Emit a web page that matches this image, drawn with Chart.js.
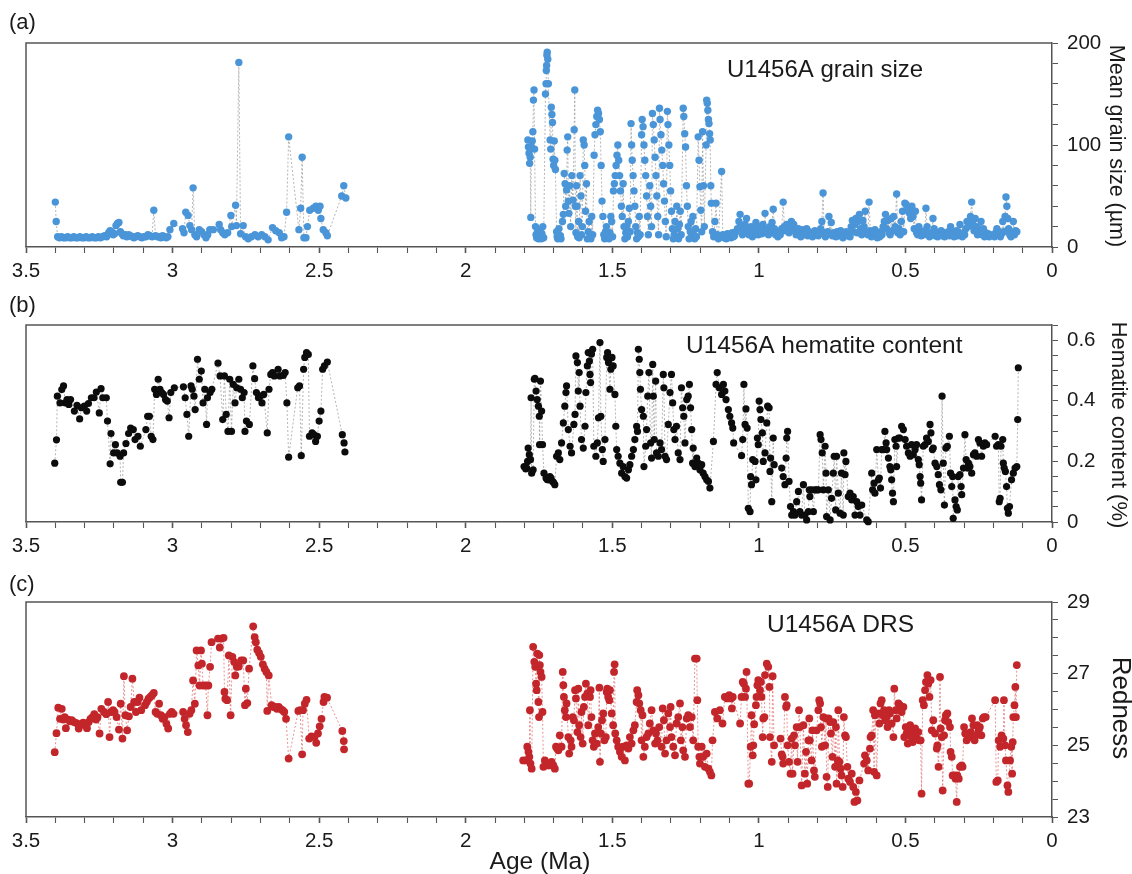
<!DOCTYPE html>
<html><head><meta charset="utf-8">
<script src="https://cdn.jsdelivr.net/npm/chart.js@4.4.1/dist/chart.umd.min.js"></script>
<style>
html,body{margin:0;padding:0;background:#fff;}
#wrap{position:relative;width:1132px;height:874px;overflow:hidden;}
canvas{position:absolute;left:0;}
</style></head><body>
<div id="wrap">
<canvas id="ca" width="1132" height="290" style="top:0px"></canvas>
<canvas id="cb" width="1132" height="280" style="top:290px"></canvas>
<canvas id="cc" width="1132" height="304" style="top:570px"></canvas>
</div>
<script>
// ---------- DATA: [age (Ma), value] ----------
// (a) U1456A mean grain size (µm)
const grainOld = [[3.400,44],[3.397,25],[3.392,10],[3.386,9],[3.379,10],[3.372,9],[3.365,9],[3.358,10],[3.351,9],[3.344,9],[3.337,10],[3.330,9],[3.323,9],[3.316,10],[3.309,9],[3.302,9],[3.295,10],[3.288,9],[3.281,9],[3.274,10],[3.267,9],[3.260,9],[3.253,10],[3.246,9],[3.239,10],[3.232,11],[3.225,10],[3.218,14],[3.213,16],[3.208,15],[3.203,12],[3.198,13],[3.193,21],[3.188,23],[3.183,24],[3.178,15],[3.173,13],[3.168,11],[3.162,12],[3.156,10],[3.150,12],[3.144,11],[3.138,10],[3.132,9],[3.126,10],[3.119,11],[3.112,10],[3.105,9],[3.098,10],[3.091,10],[3.084,12],[3.077,11],[3.070,10],[3.064,36],[3.058,11],[3.052,10],[3.046,10],[3.040,9],[3.034,11],[3.028,10],[3.022,9],[3.016,10],[3.009,17],[2.996,23],[2.966,18],[2.961,14],[2.955,34],[2.947,31],[2.941,21],[2.935,17],[2.930,58],[2.924,12],[2.918,10],[2.909,17],[2.901,15],[2.893,12],[2.886,9],[2.880,12],[2.873,17],[2.861,17],[2.841,22],[2.836,17],[2.829,14],[2.822,12],[2.812,14],[2.801,31],[2.798,20],[2.785,41],[2.782,21],[2.774,181],[2.768,13],[2.759,21],[2.751,10],[2.742,8],[2.731,10],[2.719,12],[2.708,10],[2.696,12],[2.685,10],[2.674,7],[2.659,19],[2.648,16],[2.636,14],[2.628,9],[2.620,10],[2.611,34],[2.604,108],[2.569,17],[2.563,38],[2.558,88],[2.552,9],[2.545,9],[2.540,20],[2.532,36],[2.520,38],[2.511,40],[2.503,36],[2.497,40],[2.494,28],[2.486,17],[2.477,14],[2.472,11],[2.423,50],[2.416,60],[2.409,48]];
const grainYoung = [[1.788,105],[1.786,98],[1.784,92],[1.782,82],[1.780,88],[1.778,29],[1.776,98],[1.773,104],[1.771,113],[1.769,144],[1.767,154],[1.765,96],[1.762,20],[1.760,12],[1.758,9],[1.756,14],[1.754,10],[1.752,8],[1.750,11],[1.748,9],[1.746,16],[1.744,10],[1.742,8],[1.740,13],[1.737,20],[1.734,9],
[1.728,150],[1.726,160],[1.725,173],[1.724,178],[1.723,188],[1.722,191],[1.720,184],[1.718,160],
[1.712,105],[1.710,96],[1.708,137],[1.706,130],[1.704,122],[1.702,86],[1.700,80],[1.698,104],[1.696,85],[1.694,76],
[1.690,15],[1.688,10],[1.686,8],[1.684,12],[1.682,18],[1.680,9],[1.677,11],[1.675,8],
[1.670,25],[1.667,32],[1.664,72],[1.661,62],[1.659,40],[1.656,56],[1.654,95],[1.652,108],[1.650,45],[1.648,33],[1.645,60],[1.642,20],
[1.638,70],[1.634,46],[1.630,115],[1.628,154],[1.626,40],[1.624,14],[1.622,60],[1.620,40],[1.618,10],[1.615,25],[1.613,9],
[1.610,70],[1.607,50],[1.605,12],[1.602,20],[1.599,105],[1.596,100],[1.594,80],[1.591,35],[1.588,62],[1.585,8],[1.582,15],[1.579,25],[1.576,10],[1.573,8],[1.570,30],[1.567,12],
[1.562,90],[1.559,110],[1.556,120],[1.553,128],[1.550,134],[1.547,131],[1.544,125],[1.541,113],[1.538,80],[1.535,45],[1.532,30],[1.529,12],
[1.526,8],[1.523,15],[1.520,20],[1.517,10],[1.514,12],[1.511,8],[1.508,14],[1.505,30],[1.502,25],[1.499,10],
[1.496,55],[1.493,62],[1.490,70],[1.487,80],[1.484,90],[1.481,100],[1.478,85],[1.475,70],[1.472,55],[1.469,40],[1.466,30],[1.463,62],[1.460,20],
[1.457,8],[1.454,14],[1.451,20],[1.448,10],[1.445,25],[1.442,38],[1.439,15],
[1.436,121],[1.434,100],[1.432,85],[1.429,70],[1.426,55],[1.423,40],[1.420,20],[1.417,8],[1.414,14],[1.411,10],[1.408,30],[1.405,12],
[1.400,110],[1.398,125],[1.395,118],[1.392,100],[1.389,85],[1.386,70],[1.383,50],[1.380,30],[1.377,12],
[1.372,60],[1.369,40],[1.366,20],[1.363,131],[1.360,120],[1.357,105],[1.354,88],[1.351,70],[1.348,50],[1.345,30],[1.342,12],
[1.339,136],[1.337,125],[1.334,110],[1.331,95],[1.328,80],[1.325,62],[1.322,45],[1.319,25],[1.316,10],
[1.312,133],[1.310,120],[1.307,100],[1.304,80],[1.301,55],[1.298,35],[1.295,18],[1.292,8],
[1.289,12],[1.286,25],[1.283,10],[1.280,40],[1.277,18],[1.274,8],[1.271,22],[1.268,35],[1.265,12],
[1.258,136],[1.256,128],[1.253,111],[1.250,98],[1.247,60],[1.244,40],[1.241,20],[1.238,8],
[1.234,15],[1.231,25],[1.228,10],[1.225,30],[1.222,12],[1.219,8],[1.216,18],[1.213,10],
[1.207,108],[1.204,85],[1.201,59],[1.198,36],[1.195,15],[1.192,113],[1.189,60],[1.186,20],
[1.180,100],[1.178,144],[1.176,141],[1.174,134],[1.172,125],[1.170,121],[1.168,111],[1.166,105],[1.164,60],[1.162,43],[1.158,15],[1.154,10],[1.150,25],[1.146,43],[1.142,12],[1.138,8],
[1.127,74],[1.123,12],[1.119,9],[1.115,11],[1.111,8],[1.107,13],[1.103,10],[1.099,12],[1.095,9],[1.091,14],[1.087,10],[1.083,11],[1.078,15],[1.073,18],[1.068,25],[1.064,32],[1.060,20],[1.056,12],[1.052,15],[1.047,22],[1.042,28],[1.038,18],[1.034,12],[1.030,15],[1.026,20],[1.022,10],[1.018,14],[1.014,18],[1.010,24],[1.006,15],[1.002,12],[0.998,20],[0.994,16],[0.990,13],[0.986,22],[0.982,18],[0.979,33],[0.975,14],[0.971,17],[0.967,12],[0.963,20],[0.959,15],[0.955,24],[0.951,37],[0.947,18],[0.943,12],[0.939,15],[0.935,10],[0.931,14],[0.927,12],[0.922,18],[0.917,44],[0.913,20],[0.909,16],[0.905,22],[0.901,18],[0.897,14],[0.893,20],[0.889,25],[0.885,18],[0.881,22],[0.877,16],[0.873,12],[0.869,15],[0.865,18],[0.861,13],[0.857,10],[0.853,15],[0.849,17],[0.845,12],[0.841,14],[0.837,18],[0.833,11],[0.829,15],[0.825,12],[0.821,14],[0.817,10],[0.813,13],[0.809,16],[0.805,12],[0.801,15],[0.797,11],[0.793,14],[0.789,18],[0.785,25],[0.781,53],[0.777,14],[0.773,10],[0.769,12],[0.765,15],[0.761,30],[0.757,13],[0.753,24],[0.749,11],[0.745,14],[0.741,12],[0.737,10],[0.733,15],[0.729,13],[0.725,11],[0.721,16],[0.717,12],[0.713,9],[0.709,14],[0.705,12],[0.701,15],[0.697,11],[0.693,13],[0.689,10],[0.685,20],[0.681,26],[0.677,15],[0.673,22],[0.669,28],[0.665,14],[0.661,25],[0.657,32],[0.653,18],[0.649,12],[0.645,26],[0.641,20],[0.637,35],[0.633,15],[0.628,12],[0.624,44],[0.620,16],[0.616,10],[0.612,14],[0.608,12],[0.604,17],[0.600,11],[0.596,9],[0.592,13],[0.588,10],[0.584,15],[0.580,12],[0.576,20],[0.572,25],[0.568,32],[0.564,18],[0.560,26],[0.556,14],[0.552,12],[0.548,28],[0.544,16],[0.540,30],[0.535,20],[0.530,52],[0.526,14],[0.522,18],[0.518,12],[0.514,25],[0.510,35],[0.506,15],[0.502,43],[0.498,42],[0.494,38],[0.490,35],[0.486,33],[0.482,28],[0.478,40],[0.474,30],[0.470,18],[0.466,35],[0.462,14],[0.458,12],[0.454,20],[0.450,15],[0.446,11],[0.442,14],[0.438,12],[0.434,16],[0.430,38],[0.426,20],[0.422,12],[0.418,10],[0.414,14],[0.410,12],[0.406,28],[0.402,18],[0.398,11],[0.394,14],[0.390,10],[0.386,13],[0.382,12],[0.378,16],[0.374,11],[0.370,14],[0.366,10],[0.362,13],[0.358,12],[0.354,15],[0.350,11],[0.346,20],[0.342,12],[0.338,14],[0.334,10],[0.330,13],[0.326,16],[0.322,11],[0.318,14],[0.314,22],[0.310,12],[0.306,10],[0.302,14],[0.298,12],[0.294,18],[0.290,25],[0.286,20],[0.282,24],[0.278,30],[0.274,44],[0.270,22],[0.266,16],[0.262,28],[0.258,20],[0.254,12],[0.250,18],[0.246,15],[0.242,25],[0.238,12],[0.234,18],[0.230,10],[0.226,14],[0.222,11],[0.218,13],[0.214,10],[0.210,12],[0.196,10],[0.192,14],[0.188,18],[0.184,12],[0.180,15],[0.176,10],[0.172,13],[0.168,25],[0.164,15],[0.160,30],[0.157,49],[0.154,40],[0.151,28],[0.148,18],[0.144,12],[0.140,10],[0.136,14],[0.132,25],[0.128,12],[0.124,16],[0.120,15]];

// (b) U1456A hematite content (%)
const hemOld = [[3.402,0.194],[3.396,0.271],[3.393,0.415],[3.384,0.393],[3.378,0.437],[3.372,0.449],[3.366,0.393],[3.360,0.404],[3.354,0.388],[3.348,0.404],[3.335,0.366],[3.326,0.385],[3.317,0.340],[3.311,0.377],[3.301,0.382],[3.293,0.366],[3.287,0.391],[3.277,0.410],[3.268,0.410],[3.260,0.429],[3.250,0.360],[3.244,0.440],[3.238,0.410],[3.226,0.410],[3.222,0.333],[3.213,0.192],[3.210,0.292],[3.201,0.228],[3.195,0.255],[3.189,0.228],[3.179,0.217],[3.177,0.131],[3.171,0.131],[3.167,0.228],[3.159,0.259],[3.150,0.292],[3.143,0.310],[3.134,0.305],[3.128,0.272],[3.118,0.283],[3.110,0.250],[3.091,0.305],[3.085,0.349],[3.079,0.349],[3.073,0.283],[3.067,0.272],[3.061,0.438],[3.055,0.421],[3.049,0.471],[3.043,0.438],[3.037,0.427],[3.031,0.421],[3.024,0.404],[3.018,0.399],[3.012,0.344],[3.006,0.427],[2.994,0.443],[2.963,0.446],[2.957,0.410],[2.951,0.355],[2.945,0.283],[2.937,0.449],[2.933,0.438],[2.927,0.415],[2.923,0.371],[2.915,0.537],[2.909,0.471],[2.902,0.498],[2.896,0.393],[2.890,0.438],[2.884,0.322],[2.881,0.410],[2.872,0.427],[2.866,0.438],[2.845,0.524],[2.838,0.482],[2.829,0.338],[2.823,0.482],[2.817,0.355],[2.811,0.299],[2.805,0.471],[2.799,0.299],[2.793,0.454],[2.787,0.393],[2.781,0.443],[2.774,0.471],[2.768,0.438],[2.762,0.410],[2.756,0.427],[2.753,0.299],[2.748,0.333],[2.738,0.322],[2.726,0.515],[2.720,0.473],[2.714,0.427],[2.707,0.410],[2.701,0.415],[2.695,0.393],[2.689,0.421],[2.677,0.294],[2.671,0.438],[2.665,0.487],[2.659,0.493],[2.653,0.482],[2.640,0.504],[2.634,0.482],[2.622,0.484],[2.616,0.493],[2.610,0.393],[2.604,0.214],[2.573,0.443],[2.567,0.449],[2.561,0.219],[2.553,0.504],[2.549,0.543],[2.543,0.559],[2.537,0.553],[2.533,0.283],[2.524,0.294],[2.518,0.288],[2.512,0.266],[2.506,0.283],[2.500,0.333],[2.494,0.366],[2.488,0.504],[2.482,0.515],[2.472,0.528],[2.421,0.288],[2.415,0.261],[2.412,0.231]];
const hemYoung = [[1.801,0.183],[1.795,0.175],[1.792,0.178],[1.789,0.200],[1.787,0.244],[1.783,0.222],[1.779,0.206],[1.777,0.410],[1.775,0.161],[1.770,0.172],[1.766,0.471],[1.764,0.474],[1.760,0.432],[1.756,0.404],[1.752,0.382],[1.749,0.349],[1.748,0.255],[1.745,0.465],[1.741,0.366],[1.738,0.255],[1.733,0.161],[1.726,0.145],[1.722,0.140],[1.718,0.139],[1.713,0.150],[1.709,0.145],[1.704,0.134],[1.700,0.130],[1.696,0.123],[1.690,0.217],[1.684,0.228],[1.679,0.206],[1.673,0.261],[1.667,0.327],[1.662,0.382],[1.658,0.427],[1.656,0.449],[1.650,0.305],[1.644,0.250],[1.639,0.228],[1.631,0.322],[1.627,0.355],[1.624,0.548],[1.619,0.526],[1.616,0.432],[1.613,0.493],[1.610,0.382],[1.605,0.272],[1.599,0.244],[1.593,0.316],[1.590,0.427],[1.585,0.515],[1.582,0.559],[1.578,0.531],[1.576,0.487],[1.574,0.460],[1.571,0.554],[1.567,0.570],[1.563,0.250],[1.556,0.217],[1.551,0.261],[1.547,0.344],[1.542,0.592],[1.539,0.349],[1.534,0.239],[1.531,0.200],[1.525,0.272],[1.519,0.543],[1.516,0.559],[1.513,0.526],[1.508,0.438],[1.505,0.504],[1.501,0.543],[1.497,0.515],[1.491,0.421],[1.488,0.316],[1.485,0.239],[1.480,0.217],[1.474,0.194],[1.468,0.161],[1.463,0.183],[1.457,0.150],[1.451,0.145],[1.445,0.172],[1.440,0.189],[1.434,0.217],[1.428,0.239],[1.423,0.272],[1.417,0.316],[1.414,0.299],[1.411,0.570],[1.408,0.537],[1.406,0.493],[1.404,0.438],[1.400,0.371],[1.394,0.349],[1.392,0.183],[1.386,0.250],[1.383,0.305],[1.379,0.415],[1.375,0.493],[1.369,0.261],[1.366,0.211],[1.362,0.520],[1.360,0.415],[1.357,0.272],[1.352,0.465],[1.349,0.228],[1.343,0.217],[1.337,0.261],[1.332,0.239],[1.326,0.487],[1.324,0.443],[1.320,0.217],[1.315,0.206],[1.309,0.322],[1.303,0.427],[1.298,0.487],[1.294,0.393],[1.290,0.305],[1.286,0.272],[1.281,0.316],[1.275,0.228],[1.269,0.206],[1.264,0.443],[1.260,0.377],[1.256,0.349],[1.252,0.261],[1.246,0.404],[1.241,0.415],[1.237,0.454],[1.233,0.377],[1.229,0.305],[1.226,0.194],[1.224,0.244],[1.218,0.183],[1.212,0.211],[1.207,0.194],[1.201,0.172],[1.195,0.189],[1.190,0.161],[1.184,0.150],[1.178,0.139],[1.172,0.134],[1.167,0.112],[1.155,0.266],[1.146,0.454],[1.142,0.493],[1.135,0.443],[1.127,0.421],
[1.121,0.454],[1.116,0.432],[1.112,0.404],[1.104,0.371],[1.099,0.349],[1.093,0.327],[1.089,0.310],[1.086,0.261],[1.059,0.219],[1.055,0.272],[1.051,0.454],[1.047,0.322],[1.044,0.373],[1.040,0.310],[1.036,0.045],[1.030,0.034],[1.028,0.150],[1.025,0.123],[1.021,0.206],[1.013,0.200],[1.010,0.139],[1.005,0.277],[1.002,0.255],[0.999,0.399],[0.996,0.371],[0.993,0.338],[0.988,0.294],[0.985,0.200],[0.979,0.228],[0.973,0.327],[0.970,0.382],[0.965,0.377],[0.962,0.167],[0.960,0.211],[0.956,0.067],[0.951,0.277],[0.948,0.189],[0.922,0.178],[0.917,0.150],[0.911,0.123],[0.907,0.211],[0.905,0.277],[0.902,0.299],[0.897,0.134],[0.892,0.051],[0.888,0.023],[0.882,0.034],[0.877,0.023],[0.871,0.067],[0.865,0.101],[0.860,0.034],[0.854,0.023],[0.848,0.123],[0.843,0.023],[0.837,0.007],[0.831,0.034],[0.828,0.106],[0.826,0.084],[0.820,0.106],[0.814,0.034],[0.809,0.106],[0.803,0.106],[0.797,0.106],[0.791,0.288],[0.788,0.272],[0.784,0.228],[0.780,0.106],[0.774,0.250],[0.771,0.161],[0.769,0.018],[0.763,0.106],[0.757,0.007],[0.752,0.078],[0.746,0.161],[0.743,0.217],[0.738,0.040],[0.735,0.217],[0.729,0.095],[0.723,0.029],[0.718,0.161],[0.712,0.023],[0.710,0.228],[0.706,0.156],[0.703,0.200],[0.695,0.084],[0.689,0.095],[0.683,0.073],[0.678,0.084],[0.672,0.023],[0.666,0.067],[0.661,0.051],[0.655,0.023],[0.649,0.056],[0.632,0.007],[0.627,0.001],[0.615,0.161],[0.612,0.106],[0.607,0.128],[0.604,0.095],[0.598,0.239],[0.592,0.139],[0.589,0.145],[0.585,0.112],[0.581,0.239],[0.575,0.239],[0.570,0.299],[0.566,0.261],[0.564,0.239],[0.558,0.211],[0.553,0.183],[0.550,0.172],[0.547,0.139],[0.544,0.095],[0.541,0.067],[0.536,0.272],[0.532,0.250],[0.530,0.183],[0.524,0.277],[0.519,0.277],[0.513,0.316],[0.507,0.305],[0.501,0.272],[0.496,0.250],[0.490,0.228],[0.484,0.217],[0.479,0.255],[0.473,0.222],[0.467,0.239],[0.462,0.255],[0.456,0.206],[0.453,0.189],[0.450,0.150],[0.448,0.128],[0.445,0.073],[0.439,0.250],[0.433,0.255],[0.428,0.277],[0.422,0.266],[0.416,0.322],[0.413,0.294],[0.408,0.239],[0.405,0.244],[0.399,0.194],[0.393,0.183],[0.388,0.156],[0.384,0.123],[0.379,0.106],[0.375,0.415],[0.371,0.194],[0.367,0.056],[0.362,0.244],[0.357,0.250],[0.350,0.283],[0.346,0.161],[0.342,0.117],[0.339,0.150],[0.337,0.012],[0.331,0.073],[0.327,0.051],[0.323,0.040],[0.320,0.150],[0.314,0.156],[0.310,0.117],[0.308,0.090],[0.302,0.178],[0.297,0.288],[0.293,0.206],[0.289,0.178],[0.285,0.194],[0.280,0.183],[0.274,0.161],[0.268,0.222],[0.263,0.228],[0.257,0.217],[0.251,0.272],[0.246,0.261],[0.240,0.217],[0.234,0.250],[0.229,0.261],[0.223,0.255],[0.194,0.283],[0.189,0.250],[0.183,0.255],[0.180,0.067],[0.177,0.078],[0.174,0.250],[0.168,0.272],[0.166,0.194],[0.163,0.178],[0.159,0.167],[0.155,0.117],[0.152,0.045],[0.149,0.029],[0.145,0.051],[0.138,0.139],[0.132,0.161],[0.126,0.178],[0.120,0.183],[0.117,0.338],[0.115,0.509]];

// (c) U1456A DRS redness
const redOld = [[3.402,24.81],[3.396,25.34],[3.390,26.05],[3.384,25.74],[3.378,26.02],[3.373,25.72],[3.368,25.79],[3.364,25.48],[3.356,25.72],[3.350,25.67],[3.344,25.70],[3.336,25.65],[3.328,25.62],[3.320,25.47],[3.314,25.59],[3.305,25.63],[3.298,25.56],[3.292,25.48],[3.286,25.65],[3.280,25.74],[3.273,25.79],[3.267,25.87],[3.261,25.72],[3.256,25.79],[3.249,25.33],[3.243,26.02],[3.234,25.93],[3.226,25.87],[3.220,26.21],[3.215,25.23],[3.210,25.93],[3.203,25.98],[3.198,25.93],[3.191,25.79],[3.183,25.44],[3.177,26.16],[3.171,25.19],[3.166,26.93],[3.161,25.84],[3.155,25.42],[3.149,25.81],[3.143,26.07],[3.137,26.86],[3.131,26.21],[3.125,25.93],[3.119,26.21],[3.113,26.33],[3.107,25.98],[3.094,26.12],[3.088,26.21],[3.082,26.30],[3.076,26.35],[3.070,26.40],[3.064,26.46],[3.058,25.93],[3.052,25.88],[3.046,26.16],[3.040,25.84],[3.034,25.74],[3.027,25.79],[3.021,25.60],[3.015,25.47],[3.009,25.88],[3.003,25.93],[2.997,25.88],[2.964,25.93],[2.959,25.74],[2.954,25.56],[2.948,25.37],[2.942,25.88],[2.936,25.98],[2.930,26.81],[2.924,26.16],[2.918,27.65],[2.912,27.23],[2.908,26.67],[2.903,27.65],[2.900,27.28],[2.896,26.67],[2.887,26.67],[2.881,25.84],[2.878,26.67],[2.872,27.19],[2.867,27.88],[2.845,27.98],[2.839,27.73],[2.833,27.98],[2.826,28.00],[2.823,26.49],[2.820,26.30],[2.814,26.26],[2.808,27.51],[2.802,25.84],[2.796,27.47],[2.790,27.33],[2.786,26.95],[2.781,27.19],[2.774,27.20],[2.766,27.37],[2.759,27.37],[2.753,26.12],[2.750,26.58],[2.745,26.18],[2.739,27.14],[2.725,28.32],[2.720,28.02],[2.716,27.88],[2.711,27.67],[2.705,27.58],[2.699,27.47],[2.692,27.26],[2.686,27.14],[2.680,27.05],[2.677,25.96],[2.672,26.95],[2.662,26.12],[2.656,26.07],[2.650,26.07],[2.644,26.02],[2.638,26.07],[2.632,26.02],[2.625,25.98],[2.619,25.93],[2.613,25.74],[2.604,24.63],[2.571,25.96],[2.565,25.98],[2.558,24.75],[2.555,25.98],[2.549,26.16],[2.543,26.27],[2.534,25.19],[2.526,25.25],[2.516,25.23],[2.510,25.07],[2.504,25.33],[2.498,25.53],[2.492,25.74],[2.485,26.21],[2.482,26.35],[2.473,26.33],[2.421,25.40],[2.416,25.12],[2.415,24.89]];
const redYoung = [[1.804,24.58],[1.795,24.58],[1.790,24.96],[1.786,24.82],[1.783,24.68],[1.781,25.98],[1.779,24.49],[1.775,24.35],[1.770,27.75],[1.766,27.33],[1.763,27.19],[1.760,26.72],[1.758,26.54],[1.756,27.56],[1.752,26.21],[1.750,25.79],[1.749,27.52],[1.747,27.24],[1.745,27.05],[1.741,26.91],[1.738,25.93],[1.735,24.40],[1.730,24.58],[1.724,24.44],[1.718,24.49],[1.713,24.44],[1.707,24.54],[1.701,24.44],[1.696,24.35],[1.692,24.96],[1.688,24.91],[1.684,24.86],[1.679,25.28],[1.673,24.96],[1.669,27.05],[1.667,26.68],[1.665,26.35],[1.662,25.98],[1.658,25.79],[1.656,26.17],[1.650,25.23],[1.647,24.77],[1.642,25.14],[1.639,24.96],[1.635,25.79],[1.631,25.70],[1.627,26.54],[1.624,26.31],[1.619,25.37],[1.616,26.58],[1.613,25.56],[1.608,25.23],[1.605,25.93],[1.601,25.05],[1.597,26.07],[1.593,26.35],[1.590,26.72],[1.585,26.45],[1.582,25.56],[1.576,26.35],[1.574,26.54],[1.571,25.79],[1.567,25.14],[1.563,24.96],[1.559,25.33],[1.553,25.05],[1.548,25.51],[1.544,26.61],[1.542,24.54],[1.539,25.33],[1.535,25.70],[1.531,25.89],[1.527,25.14],[1.522,25.23],[1.519,26.49],[1.517,26.58],[1.514,26.35],[1.510,26.26],[1.508,26.54],[1.502,25.89],[1.497,25.56],[1.494,27.05],[1.492,27.26],[1.490,25.33],[1.485,25.14],[1.480,24.96],[1.474,24.82],[1.468,24.68],[1.463,24.96],[1.457,24.58],[1.451,25.00],[1.445,24.91],[1.440,25.23],[1.434,25.05],[1.428,25.42],[1.423,25.56],[1.417,26.21],[1.415,26.54],[1.411,26.40],[1.408,26.17],[1.403,25.98],[1.400,25.14],[1.397,25.84],[1.394,24.68],[1.389,24.96],[1.383,25.23],[1.377,25.33],[1.372,25.61],[1.366,25.98],[1.360,25.42],[1.354,25.05],[1.351,25.33],[1.346,25.14],[1.340,25.51],[1.332,24.96],[1.328,26.03],[1.324,25.70],[1.320,24.77],[1.315,25.14],[1.309,25.89],[1.303,25.51],[1.301,26.07],[1.298,25.23],[1.292,24.96],[1.286,24.72],[1.281,25.61],[1.275,25.79],[1.269,26.17],[1.266,25.14],[1.261,25.51],[1.258,24.86],[1.252,24.68],[1.246,25.75],[1.241,25.84],[1.235,25.51],[1.229,25.79],[1.224,25.14],[1.218,27.42],[1.212,27.42],[1.210,26.26],[1.207,24.96],[1.203,24.68],[1.201,24.49],[1.195,24.96],[1.190,24.68],[1.184,24.40],[1.178,24.77],[1.172,24.35],[1.167,24.26],[1.162,24.16],[1.158,25.14],[1.150,25.93],[1.142,25.75],[1.133,25.98],[1.124,25.61],[1.116,26.35],[1.108,26.31],
[1.101,26.40],[1.095,26.31],[1.092,26.03],[1.089,26.35],[1.064,25.61],[1.059,26.35],[1.055,26.77],[1.051,26.72],[1.047,26.35],[1.044,26.58],[1.042,27.05],[1.036,23.93],[1.033,23.93],[1.028,24.96],[1.025,25.84],[1.021,24.72],[1.019,25.00],[1.016,25.59],[1.010,26.12],[1.008,26.35],[1.005,26.68],[1.002,26.82],[0.996,26.54],[0.993,26.77],[0.991,26.35],[0.987,25.23],[0.985,25.75],[0.981,25.79],[0.979,26.96],[0.973,27.28],[0.968,27.19],[0.964,26.63],[0.962,25.23],[0.956,24.54],[0.953,26.93],[0.948,25.00],[0.926,25.19],[0.922,24.75],[0.919,24.68],[0.917,24.49],[0.911,26.35],[0.907,26.07],[0.905,26.12],[0.902,25.00],[0.897,24.54],[0.892,24.21],[0.888,25.19],[0.885,24.21],[0.880,25.28],[0.877,25.00],[0.871,25.51],[0.868,24.54],[0.863,25.98],[0.860,25.51],[0.854,23.88],[0.848,25.56],[0.843,24.21],[0.839,24.82],[0.835,23.93],[0.831,25.14],[0.828,25.75],[0.826,25.14],[0.820,24.58],[0.817,25.42],[0.812,24.30],[0.809,24.12],[0.803,25.42],[0.797,25.98],[0.794,26.26],[0.791,26.17],[0.788,25.51],[0.785,24.96],[0.780,25.79],[0.774,25.00],[0.771,25.75],[0.769,24.12],[0.765,23.84],[0.762,25.75],[0.757,25.65],[0.754,25.33],[0.749,24.68],[0.746,25.65],[0.740,24.40],[0.737,25.51],[0.735,23.93],[0.731,24.58],[0.729,25.98],[0.725,24.54],[0.721,24.35],[0.718,24.16],[0.714,23.84],[0.710,25.79],[0.706,25.28],[0.703,25.23],[0.698,24.40],[0.695,24.07],[0.689,23.98],[0.683,24.21],[0.678,23.84],[0.674,23.42],[0.669,23.70],[0.664,23.46],[0.657,24.02],[0.641,24.49],[0.638,24.72],[0.632,24.58],[0.627,24.30],[0.621,24.91],[0.619,25.23],[0.615,25.28],[0.610,25.98],[0.607,24.26],[0.604,25.84],[0.598,24.16],[0.592,25.89],[0.589,25.61],[0.585,26.17],[0.581,26.26],[0.577,25.84],[0.573,25.98],[0.569,25.70],[0.564,25.79],[0.561,25.51],[0.556,25.98],[0.553,25.89],[0.547,25.61],[0.541,25.23],[0.538,26.58],[0.533,25.98],[0.530,25.75],[0.524,26.17],[0.519,26.12],[0.513,25.93],[0.507,26.07],[0.504,25.23],[0.499,25.51],[0.496,25.33],[0.492,25.05],[0.488,25.37],[0.484,25.56],[0.479,25.23],[0.475,25.09],[0.471,25.33],[0.467,25.47],[0.462,25.19],[0.456,25.37],[0.453,25.14],[0.448,25.14],[0.445,23.65],[0.441,26.26],[0.437,26.12],[0.433,26.54],[0.430,26.77],[0.425,26.96],[0.422,26.72],[0.418,26.35],[0.414,26.82],[0.410,25.42],[0.405,25.70],[0.399,25.33],[0.393,24.91],[0.391,25.00],[0.387,24.40],[0.382,26.91],[0.380,25.47],[0.376,25.23],[0.373,23.74],[0.368,25.28],[0.365,25.70],[0.362,25.84],[0.357,25.89],[0.354,25.65],[0.348,25.51],[0.346,24.82],[0.342,24.68],[0.339,24.16],[0.333,24.16],[0.329,24.07],[0.325,23.42],[0.323,24.16],[0.318,24.07],[0.314,24.40],[0.308,24.44],[0.305,24.40],[0.300,25.51],[0.296,25.33],[0.291,25.14],[0.287,25.33],[0.282,25.23],[0.277,25.37],[0.273,25.75],[0.268,25.56],[0.264,25.14],[0.259,25.28],[0.255,25.56],[0.250,25.42],[0.246,25.51],[0.241,25.28],[0.236,25.75],[0.232,25.79],[0.226,25.79],[0.194,26.26],[0.190,23.98],[0.185,24.02],[0.182,25.14],[0.177,24.96],[0.172,25.28],[0.166,25.19],[0.164,26.26],[0.160,25.00],[0.157,24.58],[0.152,23.88],[0.149,23.70],[0.143,24.58],[0.139,24.96],[0.136,24.21],[0.134,25.09],[0.132,25.79],[0.128,26.12],[0.125,26.63],[0.123,25.79],[0.120,27.24]];

// tick labels
const ageTickLabels = [3.5, 3, 2.5, 2, 1.5, 1, 0.5, 0];
const grainTickLabels = [0, 100, 200];
const hemTickLabels = [0, 0.2, 0.4, 0.6];
const redTickLabels = [23, 25, 27, 29];

// ---------- RENDERING ----------
const FONT = "'Liberation Sans', Arial, Helvetica, sans-serif";
const AXIS_COLOR = '#555';

const decorPlugin = {
  id: 'decor',
  afterDraw(chart, args, o) {
    const ctx = chart.ctx;
    const a = chart.chartArea;
    ctx.save();
    ctx.strokeStyle = AXIS_COLOR;
    ctx.lineWidth = 1.5;
    ctx.beginPath();
    ctx.moveTo(a.left, a.bottom);
    ctx.lineTo(a.left, a.top);
    ctx.lineTo(a.right, a.top);
    ctx.stroke();
    ctx.fillStyle = '#1a1a1a';
    ctx.textBaseline = 'middle';
    (o.texts || []).forEach(t => {
      ctx.save();
      ctx.font = t.size + 'px ' + FONT;
      ctx.textAlign = t.align || 'left';
      ctx.translate(t.x, t.y);
      if (t.rot) ctx.rotate(t.rot);
      ctx.fillText(t.text, 0, 0);
      ctx.restore();
    });
    ctx.restore();
  }
};

function labelCb(list) {
  return function (v) {
    for (const l of list) if (Math.abs(l - v) < 1e-6) return String(l);
    return '';
  };
}

function makePanel(p) {
  const ds = p.series.map(arr => ({
    data: arr.map(([x, y]) => ({ x, y })),
    showLine: true,
    borderColor: p.lineColor,
    borderWidth: 1,
    borderDash: [2, 2],
    pointBackgroundColor: p.pointColor,
    pointBorderColor: p.pointColor,
    pointBorderWidth: 0,
    pointRadius: p.radius,
    pointHoverRadius: p.radius,
    clip: 6
  }));
  new Chart(document.getElementById(p.id), {
    type: 'scatter',
    data: { datasets: ds },
    options: {
      responsive: false,
      animation: false,
      devicePixelRatio: 1,
      layout: { padding: { top: p.top, left: 26, right: 0, bottom: 0 } },
      plugins: {
        legend: { display: false },
        tooltip: { enabled: false },
        decor: { texts: p.texts }
      },
      scales: {
        x: {
          type: 'linear', position: 'bottom', reverse: true,
          min: 0, max: 3.5,
          afterFit: s => { s.height = p.xAxisH; },
          border: { display: true, color: AXIS_COLOR, width: 1.5 },
          grid: { drawOnChartArea: false, drawTicks: true, tickLength: 6, color: AXIS_COLOR,
                  tickWidth: c => (Math.abs(c.tick.value * 2 - Math.round(c.tick.value * 2)) < 1e-6 ? 1.6 : 1.1) },
          ticks: {
            stepSize: 0.1, autoSkip: false, maxRotation: 0, padding: 6,
            color: '#1a1a1a', font: { family: FONT, size: 20.5 },
            callback: labelCb(ageTickLabels)
          }
        },
        y: {
          type: 'linear', position: 'right',
          min: p.yMin, max: p.yMax,
          afterFit: s => { s.width = 80; },
          border: { display: true, color: AXIS_COLOR, width: 1.5 },
          grid: { drawOnChartArea: false, drawTicks: true, tickLength: 6, color: AXIS_COLOR },
          ticks: {
            stepSize: p.yStep, autoSkip: false, padding: 9,
            color: '#1a1a1a', font: { family: FONT, size: 20.5 },
            callback: labelCb(p.yLabels)
          }
        }
      }
    },
    plugins: [decorPlugin]
  });
}

makePanel({
  id: 'ca', top: 43, xAxisH: 43,
  series: [grainOld, grainYoung],
  pointColor: '#4a95d8', lineColor: 'rgba(150,150,150,0.7)', radius: 3.7,
  yMin: 0, yMax: 200, yStep: 20, yLabels: grainTickLabels,
  texts: [
    { text: '(a)', x: 9, y: 23, size: 22 },
    { text: 'U1456A grain size', x: 727, y: 70, size: 24 },
    { text: 'Mean grain size (\u00b5m)', x: 1116, y: 146, size: 21.5, align: 'center', rot: Math.PI / 2 }
  ]
});

makePanel({
  id: 'cb', top: 35, xAxisH: 48,
  series: [hemOld, hemYoung],
  pointColor: '#0c0c0c', lineColor: 'rgba(150,150,150,0.7)', radius: 3.6,
  yMin: 0, yMax: 0.65, yStep: 0.05, yLabels: hemTickLabels,
  texts: [
    { text: '(b)', x: 9, y: 16, size: 22 },
    { text: 'U1456A hematite content', x: 686, y: 56, size: 24.5 },
    { text: 'Hematite content (%)', x: 1118, y: 135, size: 22, align: 'center', rot: Math.PI / 2 }
  ]
});

makePanel({
  id: 'cc', top: 32, xAxisH: 57,
  series: [redOld, redYoung],
  pointColor: '#c3262a', lineColor: 'rgba(225,120,120,0.8)', radius: 3.9,
  yMin: 23, yMax: 29, yStep: 0.5, yLabels: redTickLabels,
  texts: [
    { text: '(c)', x: 9, y: 15, size: 22 },
    { text: 'U1456A DRS', x: 767, y: 55, size: 24.5 },
    { text: 'Redness', x: 1120, y: 138, size: 26, align: 'center', rot: Math.PI / 2 },
    { text: 'Age (Ma)', x: 540, y: 292, size: 24.5, align: 'center' }
  ]
});
</script>
</body></html>
